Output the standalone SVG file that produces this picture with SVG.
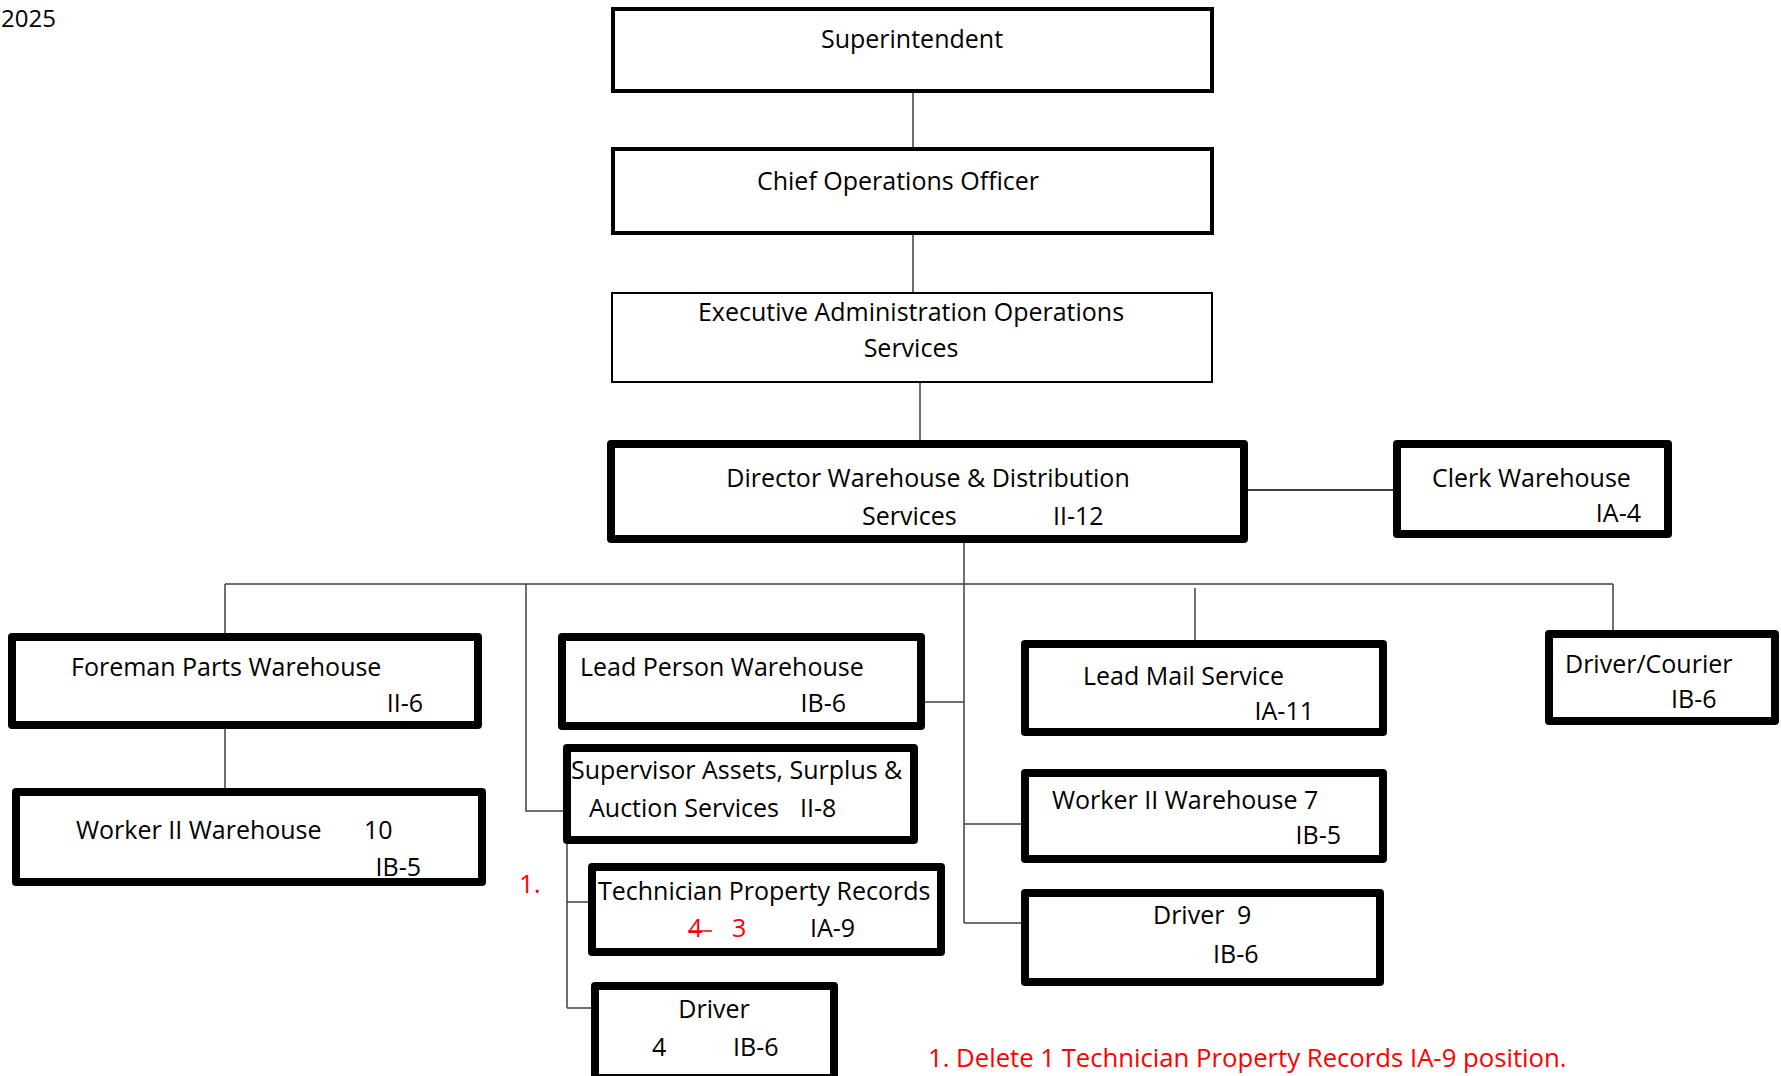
<svg xmlns="http://www.w3.org/2000/svg" width="1781" height="1076" viewBox="0 0 1781 1076">
<style>
text{font-family:"Open Sans","Noto Sans","Liberation Sans",sans-serif;font-size:25px;fill:#000}
.red{fill:#ff0000}
.c{text-anchor:middle}
.e{text-anchor:end}
.b{fill:#fff;stroke:#000;stroke-width:8;stroke-linejoin:round}
.m{fill:#fff;stroke:#000;stroke-width:4}
.t{fill:#fff;stroke:#000;stroke-width:2}
.ln{fill:none;stroke:#404040;stroke-width:1.5}
</style>
<rect width="1781" height="1076" fill="#fff"/>
<text x="1" y="27" style="font-size:24px">2025</text>
<g id="connectors">
<path class="ln" d="M913 93V149M913 235V292M920 383V440M964 543V923M225 584H1613M225 584V633M225 729V788M526 584V811H563M925 702H964M567 844V1008M567 902H588M567 1008H591M1195 588V640M964 824H1021M964 923H1021M1613 584V630"/>
<path fill="none" stroke="#404040" stroke-width="2" d="M1248 490H1393"/>
</g>
<g id="superintendent"><rect class="m" x="613" y="9" width="599" height="82"/><text class="c" x="912" y="48">Superintendent</text></g>
<g id="coo"><rect class="m" x="613" y="149" width="599" height="84"/><text class="c" x="898" y="190">Chief Operations Officer</text></g>
<g id="exec"><rect class="t" x="612" y="293" width="600" height="89"/><text class="c" x="911" y="321">Executive Administration Operations</text><text class="c" x="911" y="357">Services</text></g>
<g id="director"><rect class="b" x="611" y="444" width="633" height="95"/><text class="c" x="928" y="487">Director Warehouse &amp; Distribution</text><text x="862" y="525">Services</text><text x="1053" y="525">II-12</text></g>
<g id="clerk"><rect class="b" x="1397" y="444" width="271" height="90"/><text x="1432" y="487">Clerk Warehouse</text><text class="e" x="1641" y="522">IA-4</text></g>
<g id="foreman"><rect class="b" x="12" y="637" width="466" height="88"/><text x="71" y="676">Foreman Parts Warehouse</text><text class="e" x="423" y="712">II-6</text></g>
<g id="worker10"><rect class="b" x="16" y="792" width="466" height="90"/><text x="76" y="839">Worker II Warehouse</text><text x="364" y="839">10</text><text class="e" x="421" y="876">IB-5</text></g>
<g id="leadperson"><rect class="b" x="562" y="637" width="359" height="89"/><text x="580" y="676">Lead Person Warehouse</text><text class="e" x="846" y="712">IB-6</text></g>
<g id="supervisor"><rect class="b" x="567" y="748" width="347" height="92"/><text x="571" y="779">Supervisor Assets, Surplus &amp;</text><text x="589" y="817">Auction Services</text><text x="800" y="817">II-8</text></g>
<g id="technician"><rect class="b" x="592" y="867" width="349" height="85"/><text x="598" y="900">Technician Property Records</text><text class="red" x="688" y="937">4</text><path d="M688 931H712" stroke="#ff0000" stroke-width="1.5"/><text class="red" x="732" y="937">3</text><text x="810" y="937">IA-9</text></g>
<text class="red" x="519" y="893" style="font-size:26px">1.</text>
<g id="driver4"><rect class="b" x="595" y="986" width="239" height="92"/><text class="c" x="714" y="1018">Driver</text><text x="652" y="1056">4</text><text x="733" y="1056">IB-6</text></g>
<g id="leadmail"><rect class="b" x="1025" y="644" width="358" height="88"/><text x="1083" y="685">Lead Mail Service</text><text class="e" x="1314" y="720">IA-11</text></g>
<g id="worker7"><rect class="b" x="1025" y="773" width="358" height="86"/><text x="1052" y="809">Worker II Warehouse 7</text><text class="e" x="1341" y="844">IB-5</text></g>
<g id="driver9"><rect class="b" x="1025" y="893" width="355" height="89"/><text x="1153" y="924">Driver</text><text x="1237" y="924">9</text><text x="1213" y="963">IB-6</text></g>
<g id="courier"><rect class="b" x="1549" y="634" width="226" height="87"/><text x="1565" y="673">Driver/Courier</text><text x="1671" y="708">IB-6</text></g>
<text class="red" x="928" y="1067" style="font-size:25.7px">1. Delete 1 Technician Property Records IA-9 position.</text>
</svg>
